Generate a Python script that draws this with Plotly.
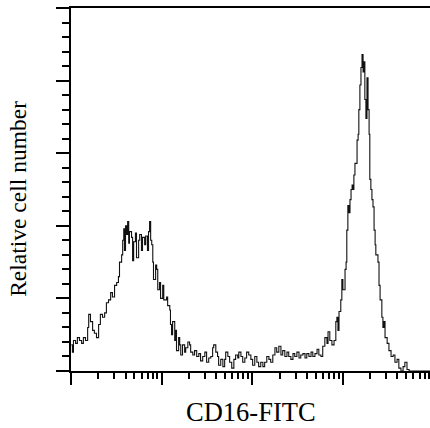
import plotly.graph_objects as go

# Histogram channels (1024-channel, 4-decade log scale) and event counts
channels = [1, 4, 7, 13, 18, 24, 30, 35, 41, 47, 50, 55, 61, 66, 72, 78, 83, 89, 95, 100,
            106, 112, 117, 123, 129, 134, 137, 143, 146, 149, 151, 154, 157, 160, 163, 165,
            171, 174, 177, 182, 185, 191, 194, 199, 202, 208, 211, 216, 219, 222, 225, 228,
            231, 233, 239, 242, 245, 250, 253, 259, 262, 267, 270, 273, 279, 281, 284, 287,
            293, 296, 298, 304, 307, 310, 315, 321, 324, 330, 335, 338, 344, 349, 355, 361,
            366, 372, 378, 383, 389, 395, 400, 403, 409, 414, 417, 423, 429, 434, 437, 443,
            448, 454, 460, 465, 471, 474, 480, 485, 491, 496, 502, 508, 513, 519, 525, 530,
            536, 542, 547, 553, 559, 564, 570, 576, 581, 587, 593, 598, 604, 610, 615, 621,
            627, 632, 638, 644, 649, 655, 661, 666, 672, 678, 683, 689, 695, 700, 706, 711,
            717, 723, 726, 731, 737, 743, 748, 751, 754, 757, 762, 765, 768, 774, 777, 779,
            782, 785, 788, 791, 794, 796, 799, 802, 808, 811, 813, 816, 819, 822, 825, 828,
            830, 833, 836, 839, 842, 844, 847, 850, 853, 856, 859, 861, 867, 870, 873, 878,
            881, 884, 887, 893, 898, 904, 910, 915, 921, 926, 932, 938, 943, 949, 955, 1023]
counts = [18, 13, 21, 19, 23, 21, 19, 23, 21, 30, 39, 34, 28, 26, 23, 32, 39, 37, 40, 47,
          49, 54, 51, 59, 61, 65, 75, 80, 90, 98, 83, 100, 94, 103, 88, 96,
          92, 76, 89, 95, 78, 90, 94, 83, 92, 87, 93, 83, 96, 103, 90, 87,
          75, 63, 73, 70, 56, 61, 50, 59, 49, 49, 51, 45, 42, 32, 25, 34,
          21, 28, 14, 23, 18, 11, 18, 13, 16, 20, 18, 13, 11, 14, 10, 12,
          7, 10, 13, 6, 9, 10, 16, 18, 13, 10, 4, 8, 3, 8, 13, 10,
          6, 2, 8, 11, 9, 13, 10, 6, 9, 13, 11, 8, 4, 10, 6, 3,
          6, 3, 6, 10, 8, 6, 11, 16, 13, 17, 11, 14, 10, 13, 10, 8,
          12, 10, 13, 9, 11, 12, 9, 12, 10, 13, 10, 12, 15, 11, 10, 17,
          23, 19, 27, 21, 18, 21, 34, 37, 28, 41, 49, 63, 56, 70, 75, 97,
          114, 109, 118, 125, 128, 125, 135, 143, 159, 163, 180, 197, 209, 218, 206, 213,
          187, 174, 202, 180, 163, 132, 125, 118, 113, 97, 87, 80, 75, 59, 49, 37,
          30, 34, 23, 19, 14, 10, 11, 6, 8, 2, 0, 3, 6, 1, 0, 0]

CHANNELS_PER_DECADE = 256
x_major = [1, 10, 100, 1000]
x_minor = [k * 10 ** e for e in range(4) for k in range(2, 10)]
y_major = [0, 50, 100, 150, 200, 250]

x_vals = [10 ** (c / CHANNELS_PER_DECADE) for c in channels]

fig = go.Figure()
fig.add_trace(go.Scatter(x=x_vals, y=counts, mode="lines",
                         line=dict(color="#111111", width=1.1, shape="hv"),
                         showlegend=False, hoverinfo="skip"))

fig.update_layout(
    width=430, height=428,
    margin=dict(l=71, r=0, t=8, b=57),
    paper_bgcolor="white", plot_bgcolor="white",
    font=dict(family="Liberation Serif", color="black"),
    xaxis=dict(type="log", range=[0, 3.961], tickvals=x_major, ticks="outside",
               ticklen=12, tickwidth=2, tickcolor="black", showticklabels=False,
               showline=True, linewidth=2, linecolor="black", mirror=True,
               showgrid=False, zeroline=False,
               minor=dict(tickvals=x_minor, ticks="outside", ticklen=6,
                          tickwidth=1.5, tickcolor="black", showgrid=False)),
    yaxis=dict(range=[0, 250], tickvals=y_major, ticks="outside", ticklen=13,
               tickwidth=2, tickcolor="black", showticklabels=False,
               showline=True, linewidth=2, linecolor="black",
               showgrid=False, zeroline=False,
               minor=dict(dtick=10, ticks="outside", ticklen=7, tickwidth=1.5,
                          tickcolor="black", showgrid=False)),
    annotations=[
        dict(text="CD16-FITC", xref="paper", yref="paper", x=0.5, y=-0.113,
             xanchor="center", yanchor="middle", showarrow=False,
             font=dict(family="Liberation Serif", size=26.5, color="black")),
        dict(text="Relative cell number", xref="paper", yref="paper", x=-0.148, y=0.474,
             xanchor="center", yanchor="middle", textangle=-90, showarrow=False,
             font=dict(family="Liberation Serif", size=23.5, color="black")),
    ],
)

fig.write_html("out.html")
